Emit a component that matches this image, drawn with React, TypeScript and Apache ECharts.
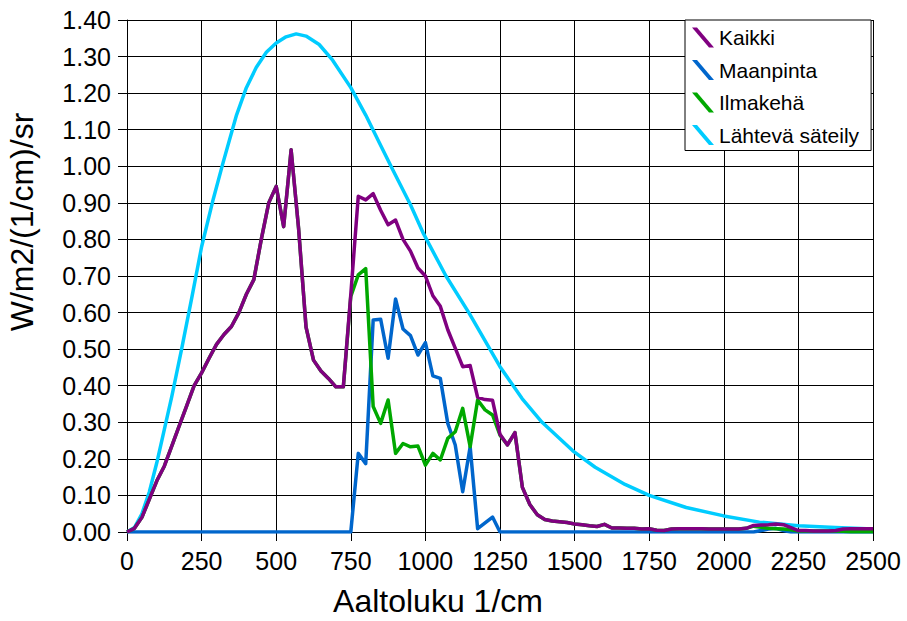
import React, { useEffect, useRef } from "react";
import * as echarts from "echarts";

const FONT = "'Liberation Sans', Arial, sans-serif";

// wavenumber grid (1/cm) shared by Kaikki, Maanpinta, Ilmakehä
const wavenumbers = [
  0, 25, 50, 75, 100, 125, 150, 175, 200, 225, 250, 275, 300, 325, 350, 375, 400, 425, 450, 475,
  500, 525, 550, 575, 600, 625, 650, 675, 700, 725, 750, 775, 800, 825, 850, 875, 900, 925, 950, 975,
  1000, 1025, 1050, 1075, 1100, 1125, 1150, 1175, 1200, 1225, 1250, 1275, 1300, 1325, 1350, 1375, 1400, 1425, 1450, 1475,
  1500, 1525, 1550, 1575, 1600, 1625, 1650, 1675, 1700, 1725, 1750, 1775, 1800, 1825, 1850, 1875, 1900, 1925, 1950, 1975,
  2000, 2025, 2050, 2075, 2100, 2125, 2150, 2175, 2200, 2225, 2250, 2275, 2300, 2325, 2350, 2375, 2400, 2425, 2450, 2475,
  2500,
];

const kaikki = [
  0, 0.01, 0.04, 0.09, 0.14, 0.18, 0.235, 0.29, 0.345, 0.4, 0.435, 0.475, 0.513, 0.54, 0.562, 0.6, 0.65, 0.69, 0.8, 0.9,
  0.945, 0.835, 1.045, 0.83, 0.56, 0.47, 0.44, 0.42, 0.397, 0.397, 0.65, 0.918, 0.908, 0.925, 0.88, 0.84, 0.853, 0.8, 0.768, 0.722,
  0.7, 0.646, 0.617, 0.553, 0.503, 0.452, 0.455, 0.368, 0.362, 0.36, 0.267, 0.238, 0.272, 0.122, 0.075, 0.047, 0.034, 0.03, 0.028, 0.026,
  0.022, 0.02, 0.017, 0.015, 0.021, 0.011, 0.011, 0.01, 0.01, 0.008, 0.009, 0.005, 0.004, 0.008, 0.009, 0.009, 0.009, 0.009, 0.008, 0.008,
  0.008, 0.008, 0.008, 0.01, 0.018, 0.019, 0.02, 0.022, 0.02, 0.012, 0.004, 0.004, 0.003, 0.003, 0.003, 0.004, 0.008, 0.009, 0.009, 0.009,
  0.009,
];

const maanpinta = [
  0, 0, 0, 0, 0, 0, 0, 0, 0, 0, 0, 0, 0, 0, 0, 0, 0, 0, 0, 0,
  0, 0, 0, 0, 0, 0, 0, 0, 0, 0, 0, 0.215, 0.187, 0.58, 0.582, 0.475, 0.637, 0.555, 0.537, 0.484,
  0.518, 0.427, 0.42, 0.297, 0.238, 0.11, 0.233, 0.009, 0.025, 0.041, 0, 0, 0, 0, 0, 0, 0, 0, 0, 0,
  0, 0, 0, 0, 0, 0, 0, 0, 0, 0, 0, 0, 0, 0, 0, 0, 0, 0, 0, 0,
  0, 0, 0, 0, 0, 0.004, 0.008, 0.01, 0.004, 0, 0, 0, 0, 0, 0, 0, 0, 0, 0, 0,
  0,
];

const ilmakeha = [
  0, 0.01, 0.04, 0.09, 0.14, 0.18, 0.235, 0.29, 0.345, 0.4, 0.435, 0.475, 0.513, 0.54, 0.562, 0.6, 0.65, 0.69, 0.8, 0.9,
  0.945, 0.835, 1.045, 0.83, 0.56, 0.47, 0.44, 0.42, 0.397, 0.397, 0.644, 0.703, 0.72, 0.343, 0.297, 0.361, 0.215, 0.242, 0.233, 0.235,
  0.183, 0.215, 0.197, 0.256, 0.274, 0.338, 0.233, 0.361, 0.334, 0.32, 0.265, 0.238, 0.272, 0.122, 0.075, 0.047, 0.034, 0.03, 0.028, 0.026,
  0.022, 0.02, 0.017, 0.015, 0.021, 0.011, 0.011, 0.01, 0.01, 0.008, 0.009, 0.005, 0.004, 0.008, 0.009, 0.009, 0.009, 0.009, 0.008, 0.008,
  0.008, 0.008, 0.008, 0.01, 0.016, 0.013, 0.01, 0.009, 0.008, 0.006, 0.003, 0.003, 0.003, 0.003, 0.003, 0.003, 0.002, 0.001, 0.001, 0.001,
  0.001,
];

// outgoing (Planck-like) curve
const lahtevaWn = [
  0, 25, 50, 75, 100, 125, 150, 183, 217, 250, 289, 322, 367, 400, 433, 467, 500, 533, 567, 600,
  644, 689, 750, 800, 844, 891, 950, 994, 1069, 1147, 1250, 1324, 1391, 1494, 1569, 1669, 1750, 1874, 2000, 2119,
  2250, 2374, 2500,
];
const lahteva = [
  0, 0.012, 0.05, 0.11, 0.19, 0.28, 0.37, 0.5, 0.64, 0.78, 0.91, 1.01, 1.14, 1.215, 1.27, 1.312, 1.337, 1.354, 1.362, 1.356,
  1.333, 1.29, 1.215, 1.14, 1.067, 0.99, 0.895, 0.815, 0.7, 0.598, 0.452, 0.365, 0.3, 0.222, 0.177, 0.13, 0.1, 0.067, 0.044, 0.027,
  0.017, 0.012, 0.008,
];

const seriesNames = ["Kaikki", "Maanpinta", "Ilmakehä", "Lähtevä säteily"];
const seriesColors = ["#800080", "#0066CC", "#00A800", "#00CCFF"];

const xTitle = "Aaltoluku 1/cm";
const yTitle = "W/m2/(1/cm)/sr";

const zip = (xs: number[], ys: number[]) => xs.map((x, i) => [x, ys[i]]);

export default function App() {
  const ref = useRef<HTMLDivElement>(null);

  useEffect(() => {
    if (!ref.current) return;
    const chart = echarts.init(ref.current, null, { renderer: "svg" });
    const lineSeries = (name: string, color: string, data: number[][], z: number) => ({
      name,
      type: "line",
      data,
      z,
      symbol: "none",
      showSymbol: false,
      color,
      itemStyle: { color },
      lineStyle: { color, width: 3.5, join: "round" },
      emphasis: { disabled: true },
    });
    chart.setOption({
      animation: false,
      backgroundColor: "#fff",
      textStyle: { fontFamily: FONT },
      grid: { left: 127, right: 34, top: 20, bottom: 89, containLabel: false },
      xAxis: {
        type: "value",
        min: 0,
        max: 2500,
        interval: 250,
        axisLine: { show: true, onZero: false, lineStyle: { color: "#000", width: 1 } },
        axisTick: { show: true, length: 9, lineStyle: { color: "#000", width: 1 } },
        axisLabel: {
          color: "#000",
          fontSize: 25,
          margin: 16,
          fontFamily: FONT,
          formatter: (v: number) => String(Math.round(v)),
        },
        splitLine: { show: true, lineStyle: { color: "#000", width: 1 } },
      },
      yAxis: {
        type: "value",
        min: 0,
        max: 1.4,
        interval: 0.1,
        axisLine: { show: true, lineStyle: { color: "#000", width: 1 } },
        axisTick: { show: true, length: 9, lineStyle: { color: "#000", width: 1 } },
        axisLabel: {
          color: "#000",
          fontSize: 25,
          margin: 16,
          fontFamily: FONT,
          formatter: (v: number) => v.toFixed(2),
        },
        splitLine: { show: true, lineStyle: { color: "#000", width: 1 } },
      },
      legend: {
        orient: "vertical",
        left: 685,
        top: 20,
        itemWidth: 22,
        itemHeight: 20,
        itemGap: 11.5,
        padding: [7, 12, 5, 7],
        backgroundColor: "#fff",
        borderColor: "#000",
        borderWidth: 1,
        borderRadius: 0,
        icon: "path://M0,0 L5,0 L22,20 L17,20 Z",
        textStyle: { fontSize: 21, color: "#000", fontFamily: FONT },
        data: seriesNames,
      },
      graphic: [
        {
          type: "text",
          x: 438,
          y: 601,
          style: {
            text: xTitle,
            fontSize: 32,
            fontFamily: FONT,
            fill: "#000",
            align: "center",
            verticalAlign: "middle",
          },
        },
        {
          type: "text",
          x: 22,
          y: 222,
          rotation: Math.PI / 2,
          style: {
            text: yTitle,
            fontSize: 32,
            fontFamily: FONT,
            fill: "#000",
            align: "center",
            verticalAlign: "middle",
          },
        },
      ],
      series: [
        lineSeries(seriesNames[0], seriesColors[0], zip(wavenumbers, kaikki), 5),
        lineSeries(seriesNames[1], seriesColors[1], zip(wavenumbers, maanpinta), 3),
        lineSeries(seriesNames[2], seriesColors[2], zip(wavenumbers, ilmakeha), 4),
        lineSeries(seriesNames[3], seriesColors[3], zip(lahtevaWn, lahteva), 2),
      ],
    });
    return () => chart.dispose();
  }, []);

  return (
    <div
      ref={ref}
      style={{ position: "fixed", left: 0, top: 0, width: 907, height: 621, background: "#fff" }}
    />
  );
}
